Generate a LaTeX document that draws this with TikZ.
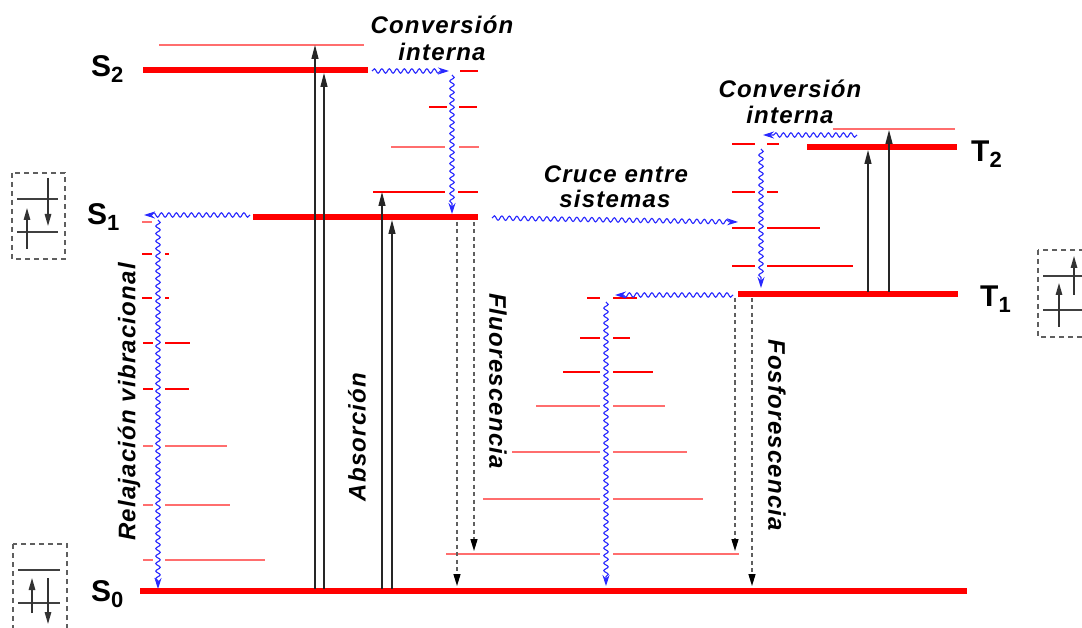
\documentclass[tikz,border=0pt]{standalone}
\usepackage{fontspec}
\setmainfont{Liberation Sans}
\newfontfamily\labfont[LetterSpace=5]{Liberation Sans}
\usetikzlibrary{arrows.meta,decorations.pathmorphing}
\definecolor{lvl}{RGB}{255,0,0}
\definecolor{thinred}{RGB}{255,110,110}
\definecolor{wblue}{RGB}{40,40,255}
\definecolor{dgrey}{RGB}{95,95,95}
\newcommand\stsub[1]{\raisebox{-6pt}{\fontsize{22}{22}\selectfont #1}}
\begin{document}
\begin{tikzpicture}[x=1pt,y=-1pt,
  thicklevel/.style={line width=5.5pt, lvl},
  vib/.style={line width=1.4pt, thinred},
  vibd/.style={line width=1.6pt, lvl},
  absarrow/.style={line width=1.3pt, black!85, -{Triangle[length=14pt,width=7pt]}},
  emit/.style={line width=1.4pt, dgrey, dash pattern=on 4pt off 3.5pt, -{Triangle[length=12pt,width=7pt,color=black]}},
  wavy/.style={wblue, line width=1.1pt, decorate, decoration={snake,amplitude=2.2pt,segment length=7.5pt,post length=7pt}, -{Stealth[length=11pt,width=7pt]}},
  lab/.style={font=\labfont\fontsize{24}{24}\selectfont\bfseries\itshape, inner sep=0pt},
  state/.style={font=\fontsize{30}{30}\selectfont\bfseries, inner sep=0pt, anchor=base west},
  ebox/.style={dgrey, line width=1.2pt, dash pattern=on 5pt off 4pt},
  orb/.style={line width=1.4pt, black!75},
  spin/.style={line width=1.4pt, black!80, -{Triangle[length=12pt,width=6.5pt]}},
]
\useasboundingbox (0,0) rectangle (1082,628);
\clip (0,0) rectangle (1082,628);
\fill[white] (0,0) rectangle (1082,628);

% ---------- S2 column ----------
\draw[thicklevel] (143,70) -- (368,70);
\draw[vib] (159,45) -- (364,45);
\draw[vibd] (460,71) -- (478,71);
\draw[vibd] (429,107) -- (447,107) (459,107) -- (477,107);
\draw[vib] (391,147) -- (445,147) (459,147) -- (479,147);
\draw[vibd] (373,192) -- (445,192) (458,192) -- (478,192);
% ---------- S1 ----------
\draw[thicklevel] (253,217) -- (478,217);
% ---------- left vibrational ladder ----------
\draw[vib] (142,222) -- (152,222);
\draw[vibd] (142,254) -- (152,254) (165,254) -- (169,254);
\draw[vibd] (142,298) -- (152,298) (165,298) -- (169,298);
\draw[vibd] (143,343) -- (153,343) (165,343) -- (190,343);
\draw[vibd] (143,389) -- (153,389) (165,389) -- (189,389);
\draw[vib] (143,446) -- (153,446) (165,446) -- (227,446);
\draw[vib] (143,505) -- (153,505) (165,505) -- (230,505);
\draw[vib] (143,560) -- (153,560) (165,560) -- (265,560);
% ---------- S0 ----------
\draw[thicklevel] (140,591) -- (967,591);
% ---------- middle ladder ----------
\draw[vibd] (587,298) -- (600,298) (613,298) -- (637,298);
\draw[vibd] (580,338) -- (600,338) (613,338) -- (630,338);
\draw[vibd] (563,372) -- (600,372) (613,372) -- (653,372);
\draw[vib] (536,406) -- (600,406) (613,406) -- (665,406);
\draw[vib] (512,452) -- (600,452) (613,452) -- (687,452);
\draw[vib] (483,499) -- (600,499) (613,499) -- (703,499);
\draw[vib] (446,554) -- (600,554) (613,554) -- (739,554);
% ---------- triplet column ----------
\draw[thicklevel] (807,147) -- (957,147);
\draw[vib] (833,129) -- (955,129);
\draw[thicklevel] (738,294) -- (958,294);
\draw[vibd] (732,144) -- (755,144) (767,144) -- (779,144);
\draw[vibd] (732,192) -- (755,192) (767,192) -- (778,192);
\draw[vibd] (732,228) -- (755,228) (767,228) -- (820,228);
\draw[vibd] (732,266) -- (755,266) (767,266) -- (853,266);

% ---------- coordinates ----------
\coordinate (a1s) at (315,589); \coordinate (a1e) at (315,45);
\coordinate (a2s) at (324,589); \coordinate (a2e) at (324,73);
\coordinate (a3s) at (382,589); \coordinate (a3e) at (382,192);
\coordinate (a4s) at (392,589); \coordinate (a4e) at (392,220);
\coordinate (a5s) at (868,292); \coordinate (a5e) at (868,150);
\coordinate (a6s) at (889,292); \coordinate (a6e) at (889,130);
\coordinate (f1s) at (457,222); \coordinate (f1e) at (457,586);
\coordinate (f2s) at (474,222); \coordinate (f2e) at (474,551);
\coordinate (p1s) at (735,298); \coordinate (p1e) at (735,551);
\coordinate (p2s) at (752,298); \coordinate (p2e) at (752,586);
\coordinate (w1s) at (372,71);  \coordinate (w1e) at (449,71);
\coordinate (w2s) at (452,75);  \coordinate (w2e) at (452,214);
\coordinate (w3s) at (250,215); \coordinate (w3e) at (144,215);
\coordinate (w4s) at (158,220); \coordinate (w4e) at (158,589);
\coordinate (w5s) at (492,218); \coordinate (w5e) at (738,222);
\coordinate (w6s) at (857,135); \coordinate (w6e) at (763,135);
\coordinate (w7s) at (761,149); \coordinate (w7e) at (761,288);
\coordinate (w8s) at (733,295); \coordinate (w8e) at (615,295);
\coordinate (w9s) at (606,302); \coordinate (w9e) at (606,586);

% ---------- absorption ----------
\draw[absarrow] (a1s) -- (a1e);
\draw[absarrow] (a2s) -- (a2e);
\draw[absarrow] (a3s) -- (a3e);
\draw[absarrow] (a4s) -- (a4e);
\draw[absarrow] (a5s) -- (a5e);
\draw[absarrow] (a6s) -- (a6e);
% ---------- emission ----------
\draw[emit] (f1s) -- (f1e);
\draw[emit] (f2s) -- (f2e);
\draw[emit] (p1s) -- (p1e);
\draw[emit] (p2s) -- (p2e);
% ---------- non-radiative ----------
\draw[wavy] (w1s) -- (w1e);
\draw[wavy] (w2s) -- (w2e);
\draw[wavy] (w3s) -- (w3e);
\draw[wavy] (w4s) -- (w4e);
\draw[wavy] (w5s) -- (w5e);
\draw[wavy] (w6s) -- (w6e);
\draw[wavy] (w7s) -- (w7e);
\draw[wavy] (w8s) -- (w8e);
\draw[wavy] (w9s) -- (w9e);

% ---------- labels ----------
\node[lab, anchor=base] (ic1a) at (442,34) {Conversión};
\node[lab, anchor=base] (ic1b) at (442,61) {interna};
\node[lab, anchor=base] (ic2a) at (790,98) {Conversión};
\node[lab, anchor=base] (ic2b) at (790,124) {interna};
\node[lab, anchor=base] (isca) at (616,183) {Cruce entre};
\node[lab, anchor=base] (iscb) at (615,208) {sistemas};
\node[lab, rotate=90] (vr) at (129,402) {Relajación vibracional};
\node[lab, rotate=90] (ab) at (357,437) {Absorción};
\node[lab, rotate=-90] (fl) at (498,381) {Fluorescencia};
\node[lab, rotate=-90] (fo) at (777,435) {Fosforescencia};

\node[state] (S2) at (91,77) {S\stsub{2}};
\node[state] (S1) at (87,225) {S\stsub{1}};
\node[state] (S0) at (91,601) {S\stsub{0}};
\node[state] (T2) at (971,162) {T\stsub{2}};
\node[state] (T1) at (980,307) {T\stsub{1}};

% ---------- spin boxes ----------
\draw[ebox] (12,173) rectangle (65,259);
\draw[orb] (17,199) -- (58,199) (17,232) -- (58,232);
\coordinate (b1a) at (27,249); \coordinate (b1b) at (27,208);
\coordinate (b1c) at (48,178); \coordinate (b1d) at (48,226);
\draw[spin] (b1a) -- (b1b);
\draw[spin] (b1c) -- (b1d);

\draw[ebox] (1038,250) rectangle (1100,337);
\draw[orb] (1043,276) -- (1090,276) (1043,310) -- (1090,310);
\coordinate (b2a) at (1059,327); \coordinate (b2b) at (1059,283);
\coordinate (b2c) at (1074,295); \coordinate (b2d) at (1074,256);
\draw[spin] (b2a) -- (b2b);
\draw[spin] (b2c) -- (b2d);

\draw[ebox] (13,544) rectangle (67,645);
\draw[orb] (18,570) -- (60,570) (18,603) -- (60,603);
\coordinate (b3a) at (32,613); \coordinate (b3b) at (32,578);
\coordinate (b3c) at (48,578); \coordinate (b3d) at (48,624);
\draw[spin] (b3a) -- (b3b);
\draw[spin] (b3c) -- (b3d);
\end{tikzpicture}
\end{document}
